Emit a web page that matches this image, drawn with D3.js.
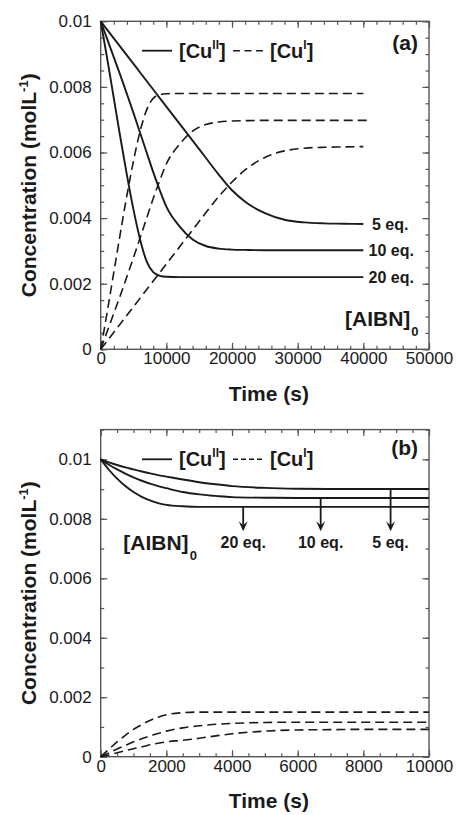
<!DOCTYPE html>
<html><head><meta charset="utf-8">
<script src="https://cdn.jsdelivr.net/npm/d3@7"></script>
<style>body{margin:0;background:#fff}svg{display:block}</style>
</head><body>
<svg id="c" width="456" height="815"></svg>
<script>
// ---------- Panel (a) data ----------
const timeA = [0,1000,2000,3000,4000,5000,6000,7000,8000,9000,10000,12000,14000,16000,18000,20000,22000,25000,28000,31000,34000,37000,40000];
const timeA10dash = [0,1000,2000,3000,4000,5000,6000,7000,8000,9000,10000,12000,14000,16000,18000,20000,22000,25000,28000,31000,34000,37000,41000];
const cu2A_5eq  = [0.0100,0.00974,0.00948,0.00922,0.00896,0.00870,0.00844,0.00818,0.00792,0.00766,0.00740,0.00688,0.00636,0.00584,0.00532,0.00485,0.00450,0.00415,0.00395,0.00387,0.00384,0.00383,0.00382];
const cu2A_10eq = [0.0100,0.00945,0.00890,0.00835,0.00778,0.00720,0.00660,0.00600,0.00540,0.00485,0.00435,0.00375,0.00335,0.00315,0.00307,0.00304,0.00303,0.00302,0.00302,0.00302,0.00302,0.00302,0.00302];
const cu2A_20eq = [0.0100,0.00885,0.00765,0.00645,0.00530,0.00425,0.00335,0.00268,0.00235,0.00224,0.00221,0.00220,0.00220,0.00220,0.00220,0.00220,0.00220,0.00220,0.00220,0.00220,0.00220,0.00220,0.00220];
const cu1A_5eq  = [0,0.00026,0.00052,0.00078,0.00104,0.00130,0.00156,0.00182,0.00208,0.00234,0.00260,0.00312,0.00364,0.00416,0.00466,0.00510,0.00547,0.00585,0.00605,0.00613,0.00616,0.00617,0.00618];
const cu1A_10eq = [0,0.00055,0.00110,0.00165,0.00222,0.00280,0.00340,0.00400,0.00460,0.00515,0.00565,0.00625,0.00665,0.00685,0.00693,0.00696,0.00697,0.00698,0.00698,0.00698,0.00698,0.00698,0.00698];
const cu1A_20eq = [0,0.00115,0.00235,0.00355,0.00470,0.00575,0.00665,0.00730,0.00765,0.00776,0.00779,0.00780,0.00780,0.00780,0.00780,0.00780,0.00780,0.00780,0.00780,0.00780,0.00780,0.00780,0.00780];

// ---------- Panel (b) data ----------
const timeB = [0,250,500,750,1000,1250,1500,1750,2000,2500,3000,3500,4000,5000,6000,7000,8000,10000];
const cu2B_5eq  = [0.0100,0.00990,0.00981,0.00973,0.00966,0.00959,0.00953,0.00947,0.00942,0.00932,0.00923,0.00916,0.00910,0.00904,0.00901,0.00900,0.00900,0.00900];
const cu2B_10eq = [0.0100,0.00982,0.00966,0.00952,0.00939,0.00928,0.00918,0.00910,0.00903,0.00890,0.00882,0.00877,0.00873,0.00871,0.00870,0.00870,0.00870,0.00870];
const cu2B_20eq = [0.0100,0.00965,0.00935,0.00910,0.00890,0.00874,0.00862,0.00853,0.00847,0.00842,0.00840,0.00840,0.00840,0.00840,0.00840,0.00840,0.00840,0.00840];
const cu1B_5eq  = [0,0.00006,0.00013,0.00020,0.00027,0.00033,0.00040,0.00045,0.00050,0.00055,0.00062,0.00070,0.00077,0.00086,0.00090,0.00091,0.00092,0.00092];
const cu1B_10eq = [0,0.00013,0.00026,0.00038,0.00050,0.00060,0.00070,0.00078,0.00086,0.00097,0.00104,0.00109,0.00112,0.00115,0.00116,0.00116,0.00116,0.00116];
const cu1B_20eq = [0,0.00025,0.00050,0.00072,0.00092,0.00108,0.00122,0.00133,0.00141,0.00148,0.00150,0.00150,0.00150,0.00150,0.00150,0.00150,0.00150,0.00150];
const arrowTimesB = [4340, 6700, 8830];
const arrowFromB  = [0.0084, 0.0087, 0.0090];
const arrowToB    = 0.00758;
const arrowLabelsB = ["20 eq.", "10 eq.", "5 eq."];

// ---------- Ticks ----------
const xMajorA = [0,10000,20000,30000,40000,50000];
const xMinorA = d3.range(0, 50001, 2000);
const yMajorA = [0,0.002,0.004,0.006,0.008,0.01];
const yMinorA = d3.range(0, 21).map(i => i*0.0005);
const xMajorB = [0,2000,4000,6000,8000,10000];
const xMinorB = d3.range(0, 10001, 500);
const yMajorB = [0,0.002,0.004,0.006,0.008,0.01];
const yMinorB = d3.range(0, 12).map(i => i*0.001);
const eqLabelsA = ["5 eq.", "10 eq.", "20 eq."];

const svg = d3.select("#c");
const FONT = "'Liberation Sans', Arial, Helvetica, sans-serif";
const INK = "#1a1a1a";
const FRAME = "#555";

const fmtY = d => d === 0 ? "0" : String(+d.toFixed(4));

function panel(opt) {
  const {x, y, xMajor, xMinor, yMajor, yMinor} = opt;
  const g = svg.append("g");
  const [x0, x1] = x.range();
  const [y0, y1] = y.range();
  // frame
  g.append("rect").attr("x", x0).attr("y", y1).attr("width", x1 - x0).attr("height", y0 - y1)
    .attr("fill", "none").attr("stroke", FRAME).attr("stroke-width", 1.4);
  const styleAxis = (sel) => {
    sel.select(".domain").remove();
    sel.selectAll(".tick line").attr("stroke", FRAME).attr("stroke-width", 1.2);
    sel.selectAll("text").attr("font-family", FONT).attr("font-size", 17).attr("fill", INK);
  };
  // bottom
  g.append("g").attr("transform", `translate(0,${y0})`)
    .call(d3.axisBottom(x).tickValues(xMinor).tickSize(-3.5).tickFormat("")).call(styleAxis);
  g.append("g").attr("transform", `translate(0,${y0})`)
    .call(d3.axisBottom(x).tickValues(xMajor).tickSize(-6.5).tickPadding(3).tickFormat(d3.format("d"))).call(styleAxis);
  // top
  g.append("g").attr("transform", `translate(0,${y1})`)
    .call(d3.axisTop(x).tickValues(xMinor).tickSize(-3.5).tickFormat("")).call(styleAxis);
  g.append("g").attr("transform", `translate(0,${y1})`)
    .call(d3.axisTop(x).tickValues(xMajor).tickSize(-6.5).tickFormat("")).call(styleAxis);
  // left
  g.append("g").attr("transform", `translate(${x0},0)`)
    .call(d3.axisLeft(y).tickValues(yMinor).tickSize(-3.5).tickFormat("")).call(styleAxis);
  g.append("g").attr("transform", `translate(${x0},0)`)
    .call(d3.axisLeft(y).tickValues(yMajor).tickSize(-6.5).tickPadding(9).tickFormat(fmtY)).call(styleAxis);
  // right
  g.append("g").attr("transform", `translate(${x1},0)`)
    .call(d3.axisRight(y).tickValues(yMinor).tickSize(-3.5).tickFormat("")).call(styleAxis);
  g.append("g").attr("transform", `translate(${x1},0)`)
    .call(d3.axisRight(y).tickValues(yMajor).tickSize(-6.5).tickFormat("")).call(styleAxis);

  // axis titles
  const cx = (x0 + x1) / 2 + 4, cy = (y0 + y1) / 2;
  g.append("text").attr("x", cx).attr("y", y0 + 51.5).attr("text-anchor", "middle")
    .attr("font-family", FONT).attr("font-weight", "bold").attr("font-size", 21).attr("fill", INK)
    .text("Time (s)");
  const yt = g.append("text").attr("transform", `translate(36,${cy}) rotate(-90)`).attr("text-anchor", "middle")
    .attr("font-family", FONT).attr("font-weight", "bold").attr("font-size", 21).attr("fill", INK);
  yt.append("tspan").text("Concentration (molL");
  yt.append("tspan").attr("font-size", 13).attr("dy", -8).text("-1");
  yt.append("tspan").attr("dy", 8).text(")");
  return g;
}

function legend(g, ly, dashCount) {
  g.append("line").attr("x1", 142).attr("x2", 172).attr("y1", ly).attr("y2", ly)
    .attr("stroke", INK).attr("stroke-width", 1.8);
  const t1 = g.append("text").attr("x", 179).attr("y", ly + 7).attr("font-family", FONT)
    .attr("font-weight", "bold").attr("font-size", 20).attr("fill", INK);
  t1.append("tspan").text("[Cu");
  t1.append("tspan").attr("font-size", 12).attr("dy", -9).text("II");
  t1.append("tspan").attr("dy", 9).text("]");
  g.append("line").attr("x1", 233).attr("x2", 263).attr("y1", ly).attr("y2", ly)
    .attr("stroke", INK).attr("stroke-width", 1.5).attr("stroke-dasharray", dashCount === 3 ? "7,4.5" : "5,3");
  const t2 = g.append("text").attr("x", 270).attr("y", ly + 7).attr("font-family", FONT)
    .attr("font-weight", "bold").attr("font-size", 20).attr("fill", INK);
  t2.append("tspan").text("[Cu");
  t2.append("tspan").attr("font-size", 12).attr("dy", -9).text("I");
  t2.append("tspan").attr("dy", 9).text("]");
}

function drawSeries(g, x, y, xs, ys, dashed) {
  const line = d3.line().x((d, i) => x(xs[i])).y(d => y(d)).curve(d3.curveMonotoneX);
  g.append("path").attr("d", line(ys)).attr("fill", "none").attr("stroke", INK)
    .attr("stroke-width", dashed ? 1.6 : 1.9)
    .attr("stroke-dasharray", dashed ? "9,5" : null);
}

// ---------- Panel (a) ----------
const xA = d3.scaleLinear().domain([0, 50000]).range([100.7, 429]);
const yA = d3.scaleLinear().domain([0, 0.01]).range([349.3, 21.3]);
const gA = panel({x: xA, y: yA, xMajor: xMajorA, xMinor: xMinorA, yMajor: yMajorA, yMinor: yMinorA});
drawSeries(gA, xA, yA, timeA, cu2A_5eq, false);
drawSeries(gA, xA, yA, timeA, cu2A_10eq, false);
drawSeries(gA, xA, yA, timeA, cu2A_20eq, false);
drawSeries(gA, xA, yA, timeA, cu1A_5eq, true);
drawSeries(gA, xA, yA, timeA10dash, cu1A_10eq, true);
drawSeries(gA, xA, yA, timeA, cu1A_20eq, true);
legend(gA, 50.7, 3);
gA.append("text").attr("x", 418).attr("y", 49.5).attr("text-anchor", "end").attr("font-family", FONT)
  .attr("font-weight", "bold").attr("font-size", 21).attr("fill", INK).text("(a)");
const eqEnds = [cu2A_5eq, cu2A_10eq, cu2A_20eq].map(a => a[a.length - 1]);
gA.selectAll("text.eq").data(eqLabelsA).enter().append("text").attr("class", "eq")
  .attr("x", (d, i) => i === 0 ? 372 : 368.5).attr("y", (d, i) => yA(eqEnds[i]) + 5.5)
  .attr("font-family", FONT).attr("font-weight", "bold").attr("font-size", 16).attr("fill", INK).text(d => d);
const aibnA = gA.append("text").attr("x", 345).attr("y", 325.5).attr("font-family", FONT)
  .attr("font-weight", "bold").attr("font-size", 21).attr("fill", INK);
aibnA.append("tspan").text("[AIBN]");
aibnA.append("tspan").attr("font-size", 13).attr("dy", 10).attr("dx", 1).text("0");

// ---------- Panel (b) ----------
const xB = d3.scaleLinear().domain([0, 10000]).range([100.7, 429]);
const yB = d3.scaleLinear().domain([0, 0.011]).range([756.7, 429.6]);
const gB = panel({x: xB, y: yB, xMajor: xMajorB, xMinor: xMinorB, yMajor: yMajorB, yMinor: yMinorB});
drawSeries(gB, xB, yB, timeB, cu2B_5eq, false);
drawSeries(gB, xB, yB, timeB, cu2B_10eq, false);
drawSeries(gB, xB, yB, timeB, cu2B_20eq, false);
drawSeries(gB, xB, yB, timeB, cu1B_5eq, true);
drawSeries(gB, xB, yB, timeB, cu1B_10eq, true);
drawSeries(gB, xB, yB, timeB, cu1B_20eq, true);
legend(gB, 459.3, 4);
gB.append("text").attr("x", 418).attr("y", 455).attr("text-anchor", "end").attr("font-family", FONT)
  .attr("font-weight", "bold").attr("font-size", 21).attr("fill", INK).text("(b)");
arrowTimesB.forEach((t, i) => {
  const ax = xB(t), ya = yB(arrowFromB[i]), yt = yB(arrowToB);
  gB.append("line").attr("x1", ax).attr("x2", ax).attr("y1", ya).attr("y2", yt - 6)
    .attr("stroke", INK).attr("stroke-width", 1.8);
  gB.append("path").attr("d", `M${ax - 4.5},${yt - 10}L${ax},${yt}L${ax + 4.5},${yt - 10}L${ax},${yt - 6}Z`)
    .attr("fill", INK);
  gB.append("text").attr("x", ax).attr("y", 548.3).attr("text-anchor", "middle").attr("font-family", FONT)
    .attr("font-weight", "bold").attr("font-size", 16).attr("fill", INK).text(arrowLabelsB[i]);
});
const aibnB = gB.append("text").attr("x", 123.3).attr("y", 550).attr("font-family", FONT)
  .attr("font-weight", "bold").attr("font-size", 21).attr("fill", INK);
aibnB.append("tspan").text("[AIBN]");
aibnB.append("tspan").attr("font-size", 13).attr("dy", 10).attr("dx", 1).text("0");
</script>
</body></html>
